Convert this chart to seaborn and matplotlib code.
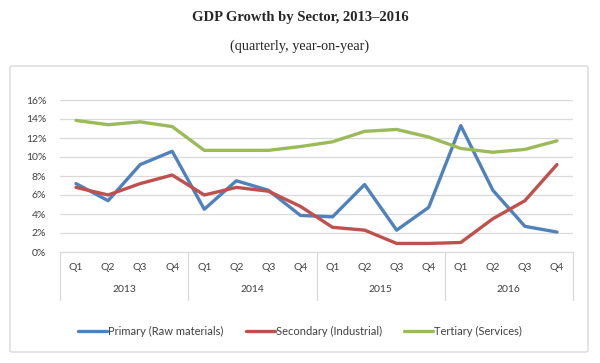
import pandas as pd
import matplotlib.pyplot as plt
import seaborn as sns
from matplotlib.patches import FancyBboxPatch

years = ["2013", "2014", "2015", "2016"]
quarters = ["Q1", "Q2", "Q3", "Q4"]
series = ["Primary (Raw materials)", "Secondary (Industrial)", "Tertiary (Services)"]

primary = [7.2, 5.4, 9.2, 10.6, 4.5, 7.5, 6.5, 3.85, 3.7, 7.1, 2.3, 4.7, 13.3, 6.5, 2.7, 2.1]
secondary = [6.8, 6.0, 7.2, 8.1, 6.0, 6.8, 6.4, 4.8, 2.6, 2.3, 0.9, 0.9, 1.0, 3.5, 5.4, 9.2]
tertiary = [13.85, 13.4, 13.7, 13.2, 10.7, 10.7, 10.7, 11.1, 11.6, 12.7, 12.9, 12.1, 10.9, 10.5, 10.8, 11.7]

colors = ["#4F81BD", "#C0504D", "#9BBB59"]

n = len(primary)
df = pd.DataFrame({
    "idx": list(range(n)) * 3,
    "value": primary + secondary + tertiary,
    "series": [series[0]] * n + [series[1]] * n + [series[2]] * n,
})

sns.set_style("white")
plt.rcParams["font.family"] = ["Lato", "DejaVu Sans"]

fig = plt.figure(figsize=(6, 3.63), dpi=100)
W, H = 600, 363

# chart frame
fig.patches.append(FancyBboxPatch((10 / W, 1 - 352 / H), 578 / W, 286 / H,
                                  boxstyle="round,pad=0,rounding_size=0.004",
                                  transform=fig.transFigure, fill=False,
                                  edgecolor="#D9D9D9", linewidth=1))

ax = fig.add_axes([60 / W, 1 - 252 / H, 513 / W, 152 / H])
sns.lineplot(data=df, x="idx", y="value", hue="series", hue_order=series,
             palette=colors, linewidth=2.4, ax=ax, legend=False)

ax.set_xlim(-0.5, n - 0.5)
ax.set_ylim(0, 16)
ax.set_yticks(range(0, 17, 2))
ax.set_yticklabels([f"{v}%" for v in range(0, 17, 2)], fontsize=7.5, color="#404040")
ax.yaxis.grid(True, color="#D9D9D9", linewidth=0.9)
ax.set_axisbelow(True)
for s in ["top", "right", "left"]:
    ax.spines[s].set_visible(False)
ax.spines["bottom"].set_color("#D9D9D9")
ax.tick_params(axis="y", length=0, pad=10)
ax.set_xticks([])
ax.set_xlabel("")
ax.set_ylabel("")

# two-level category axis
for i in range(n):
    ax.text(i, -0.105, quarters[i % 4], transform=ax.get_xaxis_transform(),
            ha="center", va="center", fontsize=7.5, color="#404040")
for k, y in enumerate(years):
    ax.text(4 * k + 1.5, -0.25, y, transform=ax.get_xaxis_transform(),
            ha="center", va="center", fontsize=7.5, color="#404040")
for b in [-0.5, 3.5, 7.5, 11.5, 15.5]:
    ax.plot([b, b], [0, -0.316], transform=ax.get_xaxis_transform(),
            color="#D9D9D9", linewidth=0.9, clip_on=False)

handles = [plt.Line2D([], [], color=c, linewidth=2.4) for c in colors]
fig.legend(handles, series, loc="center", bbox_to_anchor=(0.5, 1 - 331 / H),
           ncol=3, frameon=False, fontsize=8, handlelength=2.6,
           handletextpad=0.1, columnspacing=2.0, labelcolor="#404040")

fig.text(0.5, 1 - 18 / H, "GDP Growth by Sector, 2013–2016", ha="center", va="center",
         fontsize=10.5, fontweight="bold", family="Liberation Serif")
fig.text(0.5, 1 - 46 / H, "(quarterly, year-on-year)", ha="center", va="center",
         fontsize=10.3, family="Liberation Serif")

fig.savefig("out.png", dpi=100)
plt.close(fig)
